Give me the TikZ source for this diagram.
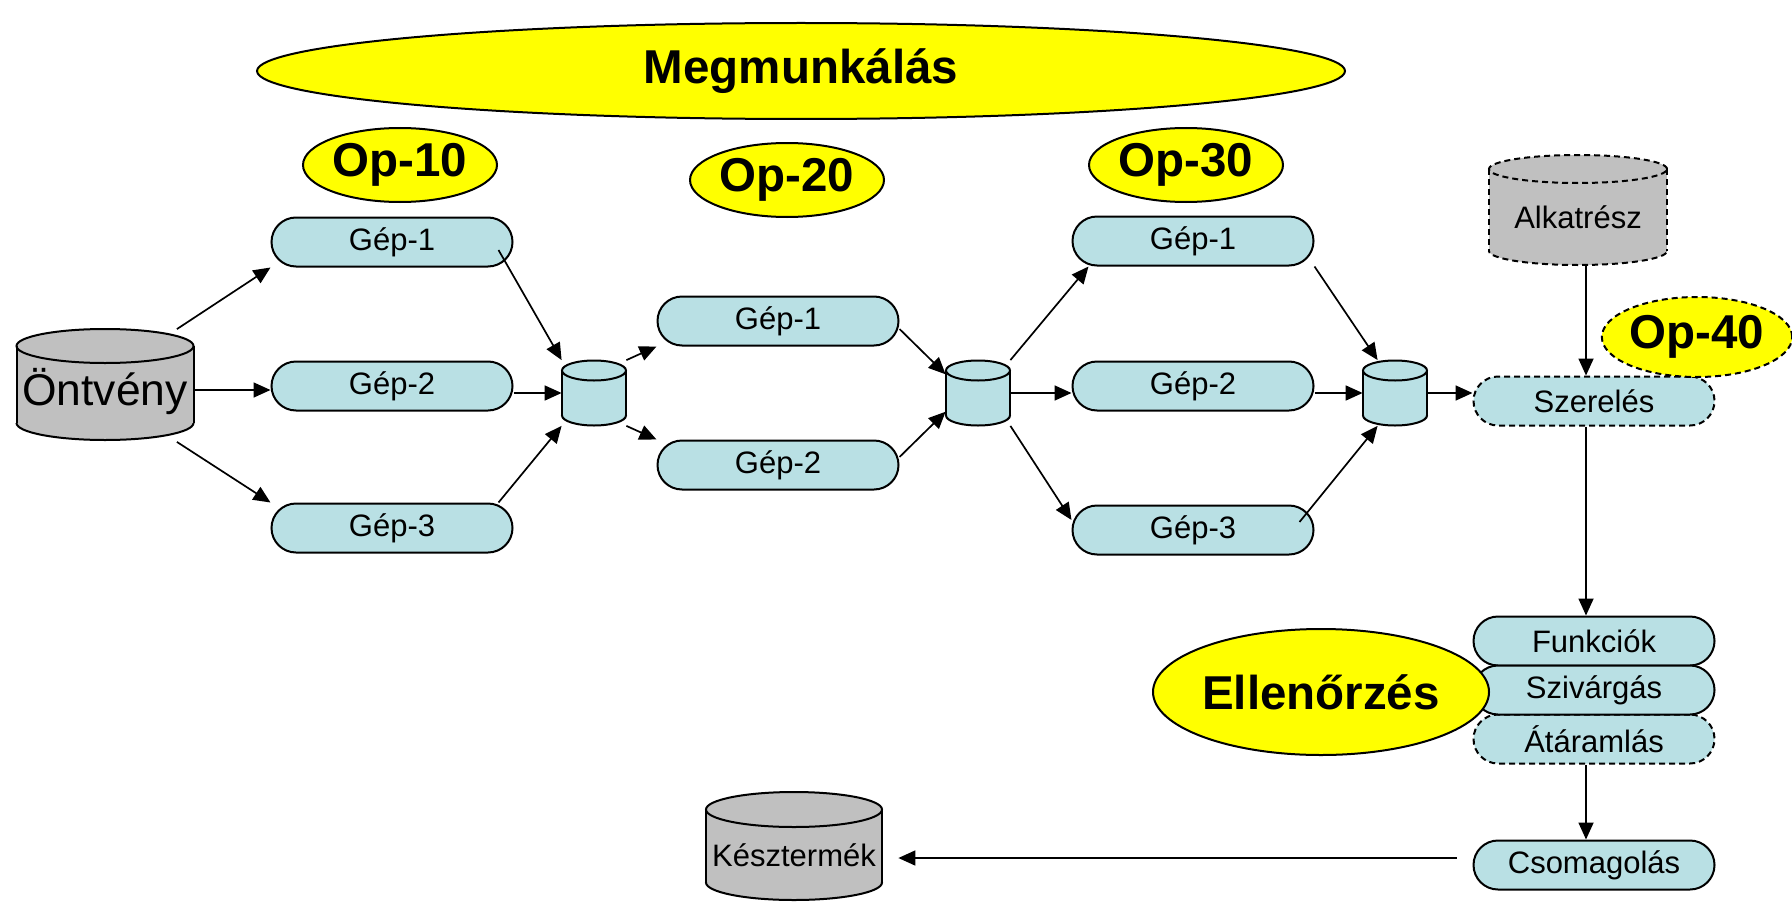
\documentclass[tikz,border=0pt]{standalone}
\usepackage{fontspec}
\setmainfont{Liberation Sans}
\usetikzlibrary{shapes.geometric,arrows.meta,calc}
\definecolor{gepfill}{RGB}{185,224,228}
\definecolor{cylgray}{RGB}{192,192,192}
\definecolor{opyellow}{RGB}{255,255,0}
\newcommand\gepfont{\fontsize{15.5pt}{18pt}\selectfont}
\newcommand\bigfont{\fontsize{23.75pt}{28pt}\selectfont\bfseries}
\newcommand\ontfont{\fontsize{22.2pt}{26pt}\selectfont}
% cylinder: #1 cx, #2 cy, #3 w, #4 h, #5 ry (px), #6 fill colour, #7 line style
\newcommand\drawcyl[7]{%
  \pgfmathsetmacro\cylXl{#1-#3/2}%
  \pgfmathsetmacro\cylXr{#1+#3/2}%
  \pgfmathsetmacro\cylYt{#2-#4/2+#5}%
  \pgfmathsetmacro\cylYb{#2+#4/2-#5}%
  \pgfmathsetmacro\cylYbb{#2+#4/2+4}%
  \pgfmathsetmacro\cylRx{#3/4}%
  \pgfmathsetmacro\cylRy{#5/2}%
  \fill[fill=#6] (\cylXl,\cylYt) rectangle (\cylXr,\cylYb);
  \fill[fill=#6] (#1,\cylYb) ellipse [x radius=\cylRx pt, y radius=\cylRy pt];
  \fill[fill=#6] (#1,\cylYt) ellipse [x radius=\cylRx pt, y radius=\cylRy pt];
  \begin{scope}
    \clip (\cylXl-4,\cylYb) rectangle (\cylXr+4,\cylYbb);
    \draw[cylline,#7] (#1,\cylYb) ellipse [x radius=\cylRx pt, y radius=\cylRy pt];
  \end{scope}
  \draw[cylline,#7] (\cylXl,\cylYt) -- (\cylXl,\cylYb) (\cylXr,\cylYt) -- (\cylXr,\cylYb);
  \draw[cylline,#7] (#1,\cylYt) ellipse [x radius=\cylRx pt, y radius=\cylRy pt];
}
\begin{document}
\begin{tikzpicture}[x=0.5pt,y=-0.5pt,
  gep/.style={draw=black, line width=1pt, fill=gepfill, rounded corners=12.25pt,
    minimum width=120.5pt, minimum height=24.5pt, inner sep=0pt, font=\gepfont},
  gepdash/.style={gep, dash pattern=on 3pt off 2pt},
  opell/.style={ellipse, draw=black, line width=1pt, fill=opyellow, inner sep=0pt, font=\bigfont},
  cylnode/.style={inner sep=0pt, font=\gepfont},
  cylline/.style={draw=black, line width=1pt},
  cyldash/.style={dash pattern=on 3pt off 2pt},
  arr/.style={draw=black, line width=0.85pt, -{Triangle[length=8.5pt,width=7.5pt]}},
]
\useasboundingbox (0,0) rectangle (1792,904);

% ---- yellow labels (top) ----
\node[opell, minimum width=544pt, minimum height=48pt] (mega) at (801,71) {Megmunkálás};
\node[opell, minimum width=97pt, minimum height=37pt] (op10) at (400,165) {Op-10};
\node[opell, minimum width=97pt, minimum height=37pt] (op20) at (787,180) {Op-20};
\node[opell, minimum width=97pt, minimum height=37pt] (op30) at (1186,165) {Op-30};

% ---- cylinders ----
\drawcyl{105}{384.5}{177}{111}{17}{cylgray}{solid}
\node[cylnode, font=\ontfont, minimum width=88.5pt, minimum height=48.5pt] (ont) at (105,392) {Öntvény};

\drawcyl{594}{393}{64}{65}{10}{gepfill}{solid}
\node[cylnode, minimum width=32pt, minimum height=32.5pt] (b1) at (594,393) {};
\drawcyl{978}{393}{64}{65}{10}{gepfill}{solid}
\node[cylnode, minimum width=32pt, minimum height=32.5pt] (b2) at (978,393) {};
\drawcyl{1395}{393}{64}{65}{10}{gepfill}{solid}
\node[cylnode, minimum width=32pt, minimum height=32.5pt] (b3) at (1395,393) {};

\drawcyl{1578}{210}{178}{110}{14}{cylgray}{cyldash}
\node[cylnode, minimum width=89pt, minimum height=48pt] (alk) at (1578,217) {Alkatrész};

\drawcyl{794}{846}{176}{108}{17.5}{cylgray}{solid}
\node[cylnode, minimum width=88pt, minimum height=45.25pt] (kesz) at (794,854.75) {Késztermék};

% ---- machine boxes ----
\node[gep] (a1) at (392,242) {Gép-1};
\node[gep] (a2) at (392,386) {Gép-2};
\node[gep] (a3) at (392,528) {Gép-3};
\node[gep] (c1) at (778,321) {Gép-1};
\node[gep] (c2) at (778,465) {Gép-2};
\node[gep] (d1) at (1193,241) {Gép-1};
\node[gep] (d2) at (1193,386) {Gép-2};
\node[gep] (d3) at (1193,530) {Gép-3};

\node[gepdash] (szer) at (1594,401) {Szerelés};
\node[gep] (funk) at (1594,641) {Funkciók};
\node[gepdash] (atar) at (1594,739) {Átáramlás};
\node[gep] (sziv) at (1594,690) {Szivárgás};
\node[gep] (csom) at (1594,865) {Csomagolás};

\node[opell, minimum width=167pt, minimum height=63pt] (ell) at (1321,692) {Ellenőrzés};
\node[opell, dash pattern=on 3pt off 2pt, minimum width=95pt, minimum height=40pt] (op40) at (1697,337) {Op-40};

% ---- connectors ----
\draw[arr] ($(ont.north east)+(-17,-14)$) -- (a1.south west);
\draw[arr] ($(ont.east)+(0,-2)$) -- ($(ont.east -| a2.west)+(0,-2)$);
\draw[arr] ($(ont.south east)+(-17,1)$) -- (a3.north west);

\draw[arr] ($(a1.east)+(-15,8)$) -- (b1.north west);
\draw[arr] (b1.west -| a2.east) -- (b1.west);
\draw[arr] ($(a3.north east)+(-15,0)$) -- (b1.south west);

\draw[arr] (b1.north east) -- (c1.south west);
\draw[arr] (b1.south east) -- (c2.north west);

\draw[arr] ($(c1.east)+(0,8)$) -- (b2.150);
\draw[arr] ($(c2.east)+(0,-8)$) -- (b2.210);

\draw[arr] (b2.north east) -- ($(d1.south west)+(17,0)$);
\draw[arr] (b2.east) -- (b2.east -| d2.west);
\draw[arr] (b2.south east) -- ($(d3.west)+(0,-10)$);

\draw[arr] (d1.south east) -- ($(b3.north west)+(15,0)$);
\draw[arr] (b3.west -| d2.east) -- (b3.west);
\draw[arr] ($(d3.east)+(-15,-8)$) -- ($(b3.south west)+(15,0)$);

\draw[arr] (b3.east) -- (b3.east -| szer.west);
\draw[arr] ($(alk.south)+(8,0)$) -- ($(szer.north)+(-8,0)$);
\draw[arr] ($(szer.south)+(-8,0)$) -- ($(funk.north)+(-8,0)$);
\draw[arr] ($(atar.south)+(-8,0)$) -- ($(csom.north)+(-8,0)$);
\draw[arr] ($(csom.west)+(-16,-7)$) -- ($(kesz.east |- csom.west)+(16,-7)$);
\end{tikzpicture}
\end{document}
